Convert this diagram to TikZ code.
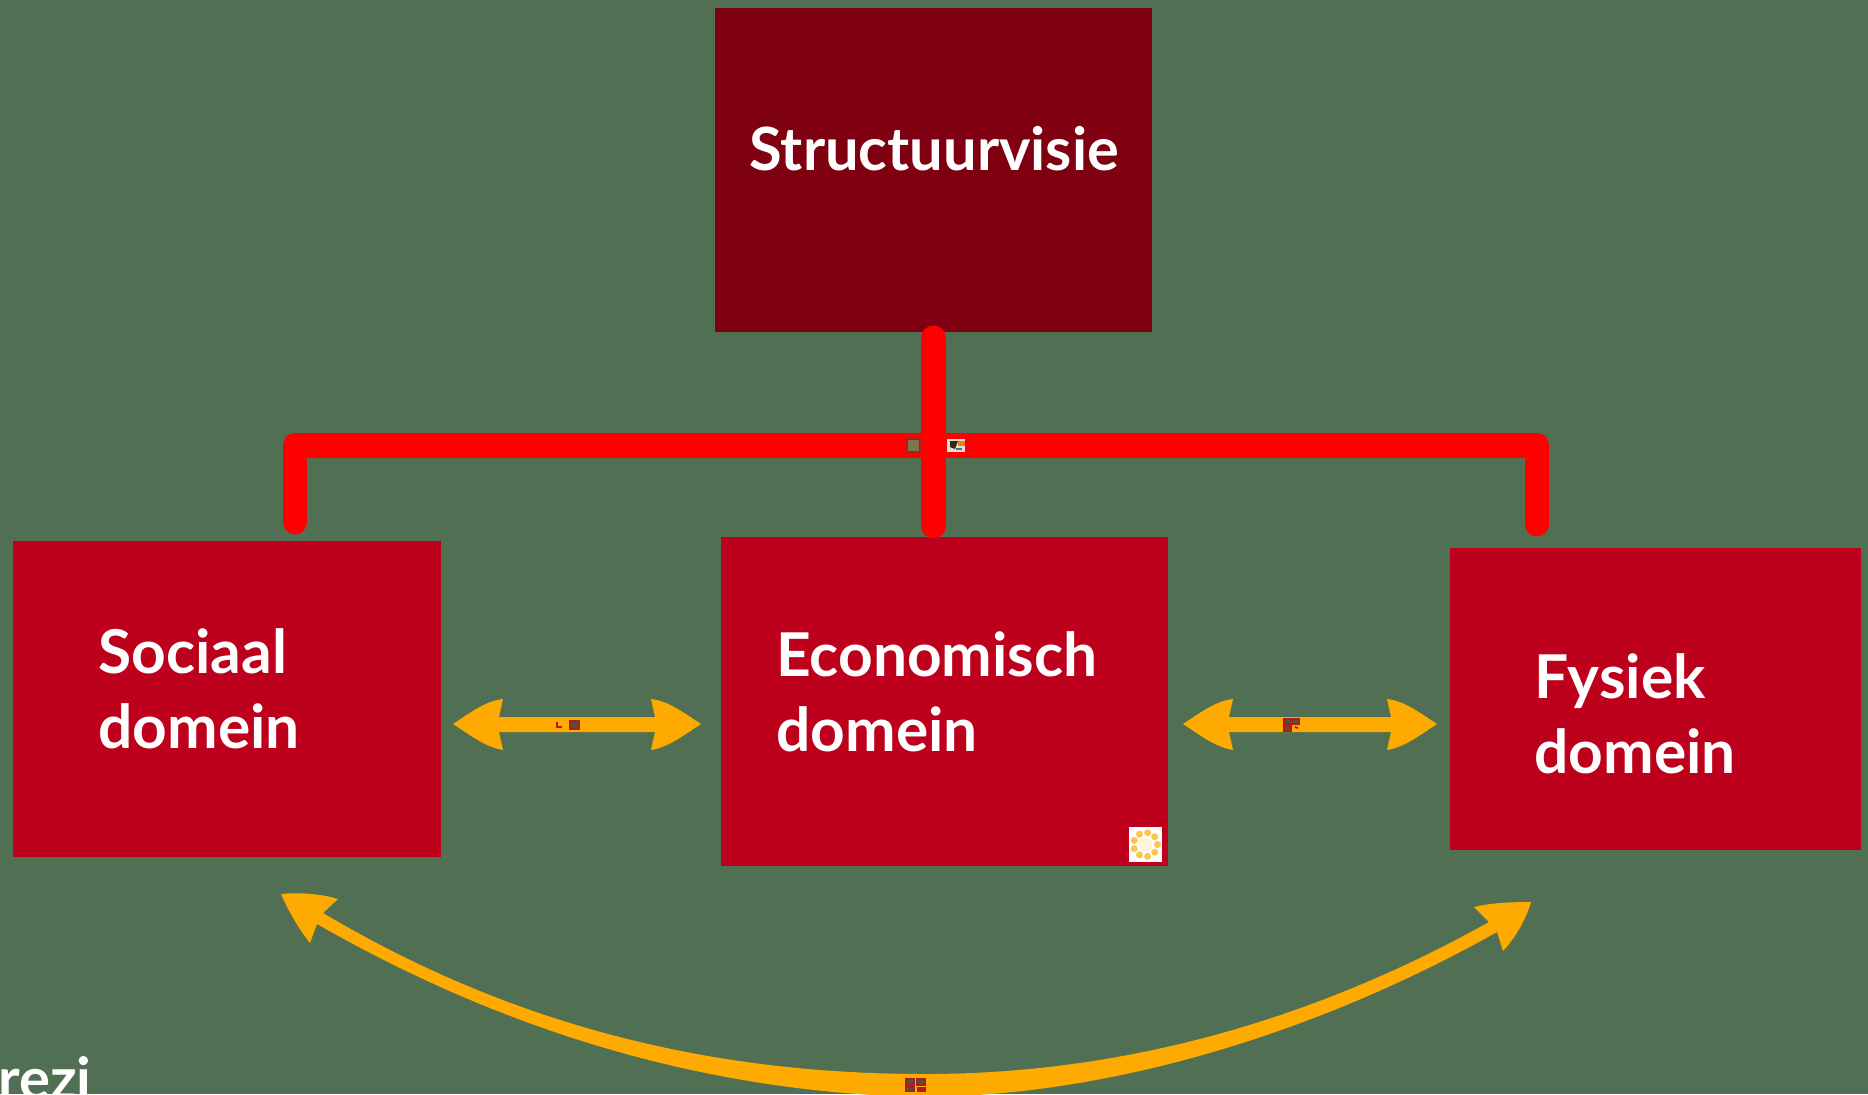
\documentclass[tikz,border=0pt]{standalone}
\usepackage{fontspec}
\setmainfont{Lato}
\usetikzlibrary{calc}
\definecolor{bg}{HTML}{517053}
\definecolor{topred}{HTML}{7F0010}
\definecolor{boxred}{HTML}{BD001B}
\definecolor{linkred}{HTML}{FF0000}
\definecolor{amber}{HTML}{FFAA00}
\definecolor{tinyred}{HTML}{B01C1C}
\tikzset{
  box/.style={draw=none,fill=boxred,minimum width=#1,inner sep=0pt,anchor=north west},
  label/.style={text=white,font=\bfseries\fontsize{30.2}{37.5}\selectfont,align=left,anchor=west,inner sep=0pt},
  trunk/.style={draw=linkred,line width=12.4pt,line cap=round,line join=round},
  tiny/.style={draw=tinyred,fill=bg!80!black,line width=0.8pt}
}
\newcommand{\dblarrow}[2]{%
  \fill[amber] (#1) .. controls ($(#1)+(17,-11)$) and ($(#1)+(32,-23)$) .. ($(#1)+(50,-25)$) -- ($(#1)+(46,-7)$) -- ($(#2)+(-46,-7)$) -- ($(#2)+(-50,-25)$) .. controls ($(#2)+(-32,-23)$) and ($(#2)+(-17,-11)$) .. (#2) .. controls ($(#2)+(-17,11)$) and ($(#2)+(-32,23)$) .. ($(#2)+(-50,26)$) -- ($(#2)+(-46,8)$) -- ($(#1)+(46,8)$) -- ($(#1)+(50,26)$) .. controls ($(#1)+(32,23)$) and ($(#1)+(17,11)$) .. (#1) -- cycle;}
\begin{document}
\begin{tikzpicture}[x=0.5pt,y=-0.5pt]
\useasboundingbox (0,0) rectangle (1868,1094);
\clip (0,0) rectangle (1868,1094);
\fill[bg] (0,0) rectangle (1868,1094);
\node[fill=topred,minimum width=218.5pt,minimum height=162pt,inner sep=0pt,anchor=north west] (top) at (715,8) {};
\node[box=214pt,minimum height=158pt] (soc) at (12.5,541) {};
\node[box=223.5pt,minimum height=164.5pt] (eco) at (721,537) {};
\node[box=205.5pt,minimum height=151pt] (fys) at (1450,548) {};
\node[label,font=\bfseries\fontsize{29.8}{37.5}\selectfont] (ttop) at (749,149) {Structuurvisie};
\node[label] (tsoc) at (98,689) {Sociaal\\domein};
\node[label] (teco) at (776,692) {Economisch\\domein};
\node[label] (tfys) at (1534,714) {Fysiek\\domein};
\coordinate (hl) at (295,445.5);
\coordinate (hr) at (1537,445.5);
\coordinate (ls) at ($(hl |- soc.north)+(0,-19)$);
\coordinate (rs) at ($(hr |- fys.north)+(0,-24)$);
\coordinate (ts) at ($(top.south)+(-0.5,5)$);
\coordinate (es) at ($(top.south |- eco.north)+(-0.5,-11)$);
\draw[trunk] (ls) -- (hl) -- (hr) -- (rs);
\draw[trunk] (ts) -- (es);
\coordinate (a1) at (453,724); \coordinate (a2) at (701,724);
\coordinate (b1) at (1183,724); \coordinate (b2) at (1437,724);
\dblarrow{a1}{a2}
\dblarrow{b1}{b2}
% long curved arrow
\coordinate (c1) at (281,894);
\coordinate (c2) at (1531,902);
\fill[amber] (c1) .. controls (300,892) and (322,894) .. (338,899) -- (323,913)
  .. controls (520,1030) and (720,1074) .. (925,1074)
  .. controls (1120,1074) and (1310,1022) .. (1489,922)
  -- (1474,907) .. controls (1490,903) and (1510,902) .. (c2)
  .. controls (1526,920) and (1515,938) .. (1503,951) -- (1497,932)
  .. controls (1330,1026) and (1120,1097) .. (918,1097)
  .. controls (720,1092) and (520,1040) .. (317,924)
  -- (310,943) .. controls (298,928) and (288,910) .. (c1) -- cycle;
% tiny embedded thumbnails
\draw[tiny,fill=bg!60!brown] (907,439) rectangle (920,452);
\fill[white!75!gray] (947,439) rectangle (965,452);
\fill[black!70!brown] (950,441) -- (958,441) -- (955,449) -- (950,447) -- cycle;
\fill[orange!70!brown] (958,441) rectangle (965,446);
\fill[black!60] (956,448) rectangle (962,450);
\draw[tiny] (570,721) rectangle (579,729);
\draw[tinyred,line width=1pt] (557,722) -- (557,727) -- (562,727);
\draw[tiny] (1284,719) rectangle (1291,724);
\draw[tiny] (1292,719) rectangle (1299,724);
\draw[tiny] (1284,726) rectangle (1291,731);
\draw[tinyred,line width=1pt] (1295,727) -- (1298,728);
\draw[tiny] (906,1079) rectangle (914,1085);
\draw[tiny] (917,1079) rectangle (925,1085);
\draw[tiny] (906,1087) rectangle (914,1091);
\draw[tiny] (918,1088) rectangle (925,1091);
\fill[white] (1129,827) rectangle (1162,862);
\foreach \a in {0,40,...,320}
  \fill[amber!70!white] ($(1145.5,844.5)+(\a:12)$) circle[radius=3.5];
\fill[white!85!amber] (1145.5,844.5) circle[radius=7];
% logo fragment
\node[text=white,font=\bfseries\fontsize{29}{29}\selectfont,anchor=base west,inner sep=0pt] (logo) at (-2,1099) {rezi};
\end{tikzpicture}
\end{document}
